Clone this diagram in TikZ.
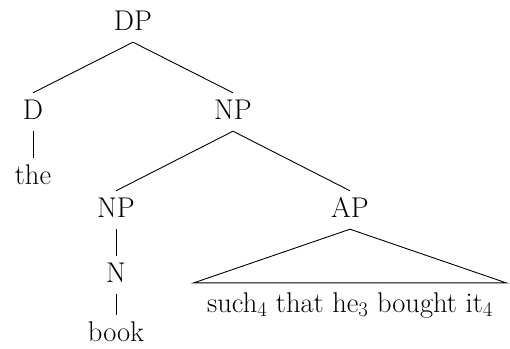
\documentclass[tikz,border=0pt]{standalone}
\begin{document}
\begin{tikzpicture}[x=1pt,y=-1pt,
  lbl/.style={anchor=base,text height=19pt,text depth=5pt,inner xsep=0pt,inner ysep=7pt,font=\fontsize{28.5}{32}\selectfont},
  edge/.style={line width=0.9pt}]
\useasboundingbox (0,0) rectangle (510,348);
\node[lbl] (DP) at (133,30) {DP};
\node[lbl] (D) at (33,119) {D};
\node[lbl] (NP1) at (233,119) {NP};
\node[lbl] (the) at (33,184) {the};
\node[lbl] (NP2) at (116,217) {NP};
\node[lbl] (AP) at (350,217) {AP};
\node[lbl] (N) at (116,282) {N};
\node[lbl,text depth=1pt] (book) at (116,341) {book};
\node[lbl,inner ysep=10pt,inner xsep=13pt] (S) at (350,312) {such$_4$ that he$_3$ bought it$_4$};
\draw[edge] (DP.south) -- (D.north);
\draw[edge] (DP.south) -- (NP1.north);
\draw[edge] (D.south) -- (the.north);
\draw[edge] (NP1.south) -- (NP2.north);
\draw[edge] (NP1.south) -- (AP.north);
\draw[edge] (NP2.south) -- (N.north);
\draw[edge] (N.south) -- (book.north);
\draw[edge] (AP.south) -- (S.north west) -- (S.north east) -- cycle;
\end{tikzpicture}
\end{document}
